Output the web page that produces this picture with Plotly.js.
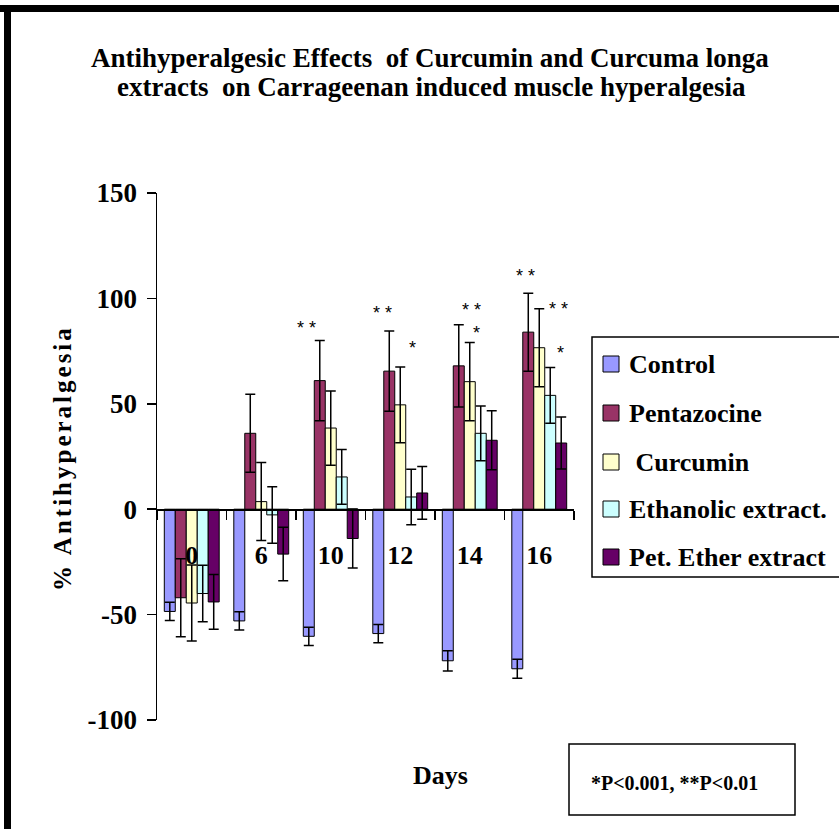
<!DOCTYPE html>
<html>
<head>
<meta charset="utf-8">
<script src="https://cdn.plot.ly/plotly-3.0.1.min.js"></script>
<style>
html,body{margin:0;padding:0;background:#fff;}
#chart{width:839px;height:829px;}
.annotation[data-index="3"] text{letter-spacing:3px;}
</style>
</head>
<body>
<div id="chart"></div>
<script>
// ---- data ----
var days = ["0", "6", "10", "12", "14", "16"];
var seriesNames = ["Control", "Pentazocine", " Curcumin", "Ethanolic extract.", "Pet. Ether extract"];
var seriesColors = ["#9999FF", "#993366", "#FFFFCC", "#CCFFFF", "#660066"];
var control = [-48.5, -53, -60.3, -59, -71.9, -75.7];
var controlErr = [4.3, 4.3, 4.3, 4.3, 4.8, 4.5];
var pentazocine = [-42, 36, 61, 65.5, 68, 84];
var pentazocineErr = [18.5, 18.5, 19, 19, 19.5, 18.5];
var curcumin = [-44.5, 3.6, 38.5, 49.5, 60.5, 76.6];
var curcuminErr = [18, 18.5, 17.6, 18, 18.6, 18.5];
var ethanolic = [-40, -2.7, 15.3, 5.8, 36, 54];
var ethanolicErr = [13.4, 13.4, 13, 13.2, 13, 13.2];
var petEther = [-44, -21.3, -13.9, 7.7, 32.7, 31.4];
var petEtherErr = [13, 12.7, 14, 12.5, 14, 12.3];
// significance marks: [category position, value, text]
var sigX = [1.65, 2.75, 3.18, 4.03, 4.10, 4.795, 5.27, 5.31];
var sigY = [85.9, 93.1, 76.4, 94.7, 83.6, 110.5, 94.9, 74.2];
var sigText = ["* *", "* *", "*", "* *", "*", "* *", "* *", "*"];
var yTicks = [-100, -50, 0, 50, 100, 150];
var yTickText = ["-100", "-50", "0", "50", "100", "150"];

var serif = "Liberation Serif, Times New Roman, serif";
var values = [control, pentazocine, curcumin, ethanolic, petEther];
var errs = [controlErr, pentazocineErr, curcuminErr, ethanolicErr, petEtherErr];

var traces = values.map(function (v, i) {
  return {
    type: "bar",
    name: seriesNames[i],
    x: days,
    y: v,
    marker: {color: seriesColors[i], line: {color: "#000", width: 1}},
    error_y: {type: "data", array: errs[i], visible: true, color: "#000", thickness: 1.5, width: 5},
    showlegend: false,
    hoverinfo: "skip"
  };
});

// pixel helpers (plot area: x 157..574, y 193..720)
function px(x) { return (x - 157) / 417; }
function py(y) { return (720 - y) / 527; }

var annotations = [
  {text: "<b>Antihyperalgesic Effects  of Curcumin and Curcuma longa</b>", xref: "paper", yref: "paper", x: px(430), y: py(58), showarrow: false, xanchor: "center", yanchor: "middle", font: {family: serif, size: 27, color: "#000"}},
  {text: "<b>extracts  on Carrageenan induced muscle hyperalgesia</b>", xref: "paper", yref: "paper", x: px(431), y: py(87), showarrow: false, xanchor: "center", yanchor: "middle", font: {family: serif, size: 27, color: "#000"}},
  {text: "<b>Days</b>", xref: "paper", yref: "paper", x: px(440), y: py(775), showarrow: false, xanchor: "center", yanchor: "middle", font: {family: serif, size: 26, color: "#000"}},
  {text: "<b>% Antihyperalgesia</b>", xref: "paper", yref: "paper", x: px(62), y: py(458), textangle: -90, showarrow: false, xanchor: "center", yanchor: "middle", font: {family: serif, size: 25, color: "#000"}},
  {text: "<b>*P<0.001, **P<0.01</b>", xref: "paper", yref: "paper", x: px(674), y: py(783), showarrow: false, xanchor: "center", yanchor: "middle", font: {family: serif, size: 20, color: "#000"}}
];
for (var k = 0; k < sigX.length; k++) {
  annotations.push({text: sigText[k], xref: "x", yref: "y", x: sigX[k], y: sigY[k], showarrow: false, xanchor: "center", yanchor: "middle", font: {family: "Liberation Sans, Arial, sans-serif", size: 18, color: "#000"}});
}
// legend (manual)
var legendY = [364, 413, 462, 509, 557];
var shapes = [
  {type: "line", xref: "paper", yref: "paper", x0: px(-10), x1: px(860), y0: py(8.5), y1: py(8.5), line: {color: "#000", width: 7}},
  {type: "line", xref: "paper", yref: "paper", x0: px(7.5), x1: px(7.5), y0: py(5), y1: py(840), line: {color: "#000", width: 7}},
  {type: "rect", xref: "paper", yref: "paper", x0: px(592), x1: px(900), y0: py(337), y1: py(577), line: {color: "#000", width: 1.5}, fillcolor: "rgba(0,0,0,0)"},
  {type: "rect", xref: "paper", yref: "paper", x0: px(569), x1: px(795), y0: py(744), y1: py(815), line: {color: "#000", width: 1.5}, fillcolor: "rgba(0,0,0,0)"}
];
for (var j = 0; j < seriesNames.length; j++) {
  shapes.push({type: "rect", xref: "paper", yref: "paper", x0: px(603), x1: px(619), y0: py(legendY[j] - 8), y1: py(legendY[j] + 8), line: {color: "#000", width: 1}, fillcolor: seriesColors[j]});
  annotations.push({text: "<b>" + seriesNames[j] + "</b>", xref: "paper", yref: "paper", x: px(627), y: py(legendY[j]), showarrow: false, xanchor: "left", yanchor: "middle", font: {family: serif, size: 26, color: "#000"}});
}

var layout = {
  width: 839,
  height: 829,
  margin: {l: 157, r: 265, t: 193, b: 109, pad: 0},
  paper_bgcolor: "#fff",
  plot_bgcolor: "#fff",
  barmode: "group",
  bargap: 0.21,
  bargroupgap: 0,
  showlegend: false,
  xaxis: {
    type: "category",
    anchor: "free",
    position: 0.4,
    showline: true, linecolor: "#000", linewidth: 1.5,
    ticks: "outside", tickson: "boundaries", ticklen: 9, tickwidth: 1.5, tickcolor: "#000",
    showgrid: false, zeroline: false,
    ticklabelstandoff: 22,
    tickfont: {family: serif, size: 26, color: "#000", weight: "bold"}
  },
  yaxis: {
    range: [-100, 150],
    tickvals: yTicks,
    ticktext: yTickText,
    showline: true, linecolor: "#000", linewidth: 1.5,
    ticks: "outside", ticklen: 9, tickwidth: 1.5, tickcolor: "#000",
    showgrid: false, zeroline: false,
    ticklabelstandoff: 4,
    tickfont: {family: serif, size: 27, color: "#000", weight: "bold"}
  },
  annotations: annotations,
  shapes: shapes
};

Plotly.newPlot("chart", traces, layout, {staticPlot: true, displayModeBar: false});
</script>
</body>
</html>
